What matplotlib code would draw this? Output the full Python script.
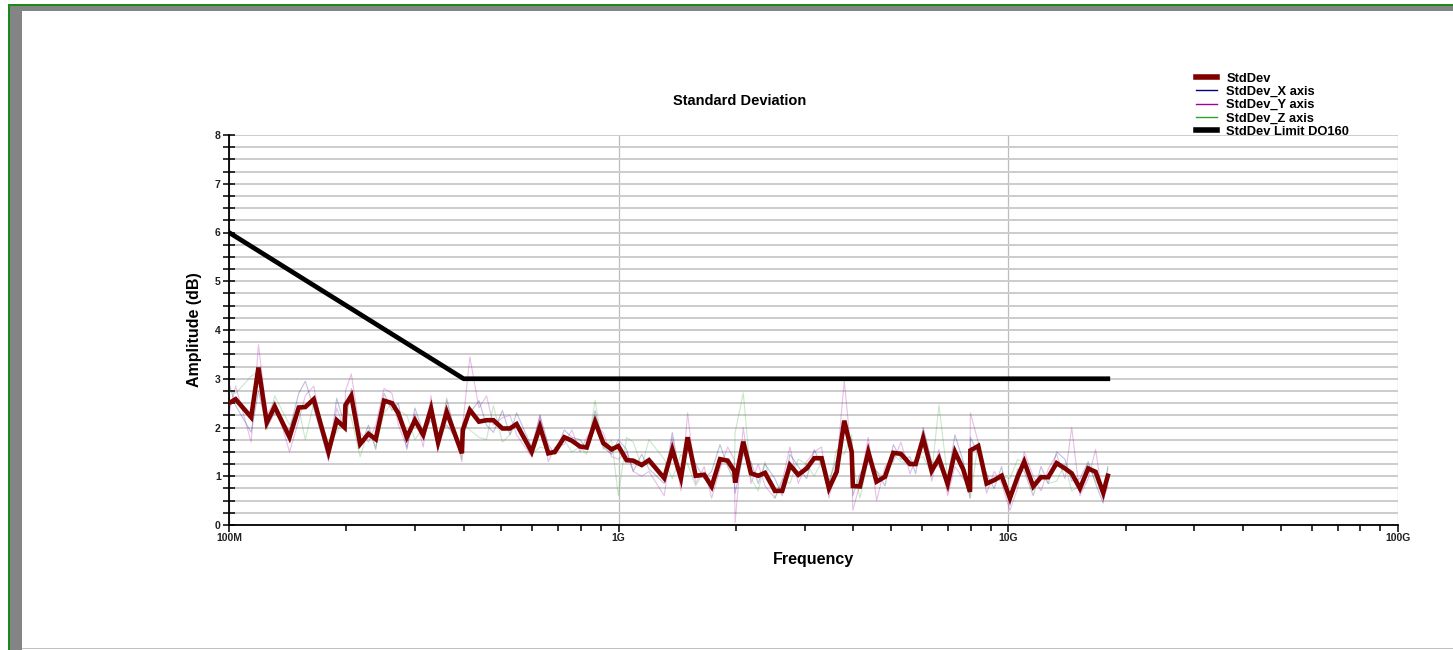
import matplotlib
matplotlib.use("Agg")
import matplotlib.pyplot as plt
from matplotlib.lines import Line2D
from matplotlib.patches import Rectangle
from matplotlib.ticker import FixedLocator, FuncFormatter, LogLocator, NullFormatter

plt.rcParams['font.family'] = ['Liberation Sans', 'DejaVu Sans']

# ---- measurement data (frequency in MHz, amplitude in dB) ----
freq_mhz = [100, 104, 114, 119, 125, 131, 143, 151, 157, 165,
            180, 189, 198, 199, 206, 217, 228, 238, 250, 262,
            272, 286, 300, 315, 330, 344, 362, 396, 398, 415,
            438, 458, 477, 503, 526, 547, 598, 628, 660, 686,
            725, 758, 796, 828, 870, 913, 959, 998, 1048, 1090,
            1146, 1196, 1309, 1373, 1445, 1503, 1576, 1658, 1732, 1820,
            1904, 1980, 1990, 2088, 2185, 2281, 2374, 2518, 2629, 2751,
            2890, 3037, 3176, 3318, 3464, 3626, 3793, 3963, 3990, 4161,
            4371, 4592, 4825, 5067, 5302, 5592, 5783, 6047, 6357, 6636,
            6987, 7295, 7661, 7971, 7990, 8372, 8797, 9198, 9612, 10094,
            10565, 10984, 11586, 12126, 12660, 13302, 13973, 14540, 15267, 16032,
            16749, 17518, 18000]

std_dev = [2.50, 2.58, 2.21, 3.23, 2.10, 2.43, 1.80, 2.41, 2.42, 2.58,
           1.50, 2.15, 2.00, 2.46, 2.65, 1.66, 1.87, 1.76, 2.55, 2.50,
           2.29, 1.80, 2.15, 1.85, 2.39, 1.69, 2.32, 1.47, 1.95, 2.36,
           2.12, 2.15, 2.15, 1.98, 1.98, 2.07, 1.50, 2.02, 1.47, 1.50,
           1.80, 1.73, 1.61, 1.59, 2.12, 1.68, 1.55, 1.62, 1.33, 1.32,
           1.23, 1.33, 0.96, 1.55, 0.96, 1.80, 1.01, 1.03, 0.79, 1.35,
           1.32, 1.11, 0.87, 1.71, 1.06, 1.01, 1.07, 0.70, 0.70, 1.23,
           1.03, 1.16, 1.37, 1.37, 0.75, 1.09, 2.14, 1.50, 0.80, 0.79,
           1.50, 0.89, 0.99, 1.48, 1.46, 1.25, 1.25, 1.78, 1.11, 1.37,
           0.84, 1.50, 1.14, 0.68, 1.53, 1.62, 0.85, 0.92, 1.01, 0.55,
           0.99, 1.30, 0.79, 0.98, 0.98, 1.27, 1.16, 1.06, 0.75, 1.16,
           1.09, 0.66, 1.01]

std_dev_x = [2.90, 2.45, 1.90, 2.75, 2.00, 2.30, 1.95, 2.70, 2.95, 2.40,
             1.35, 2.60, 2.05, 2.10, 2.80, 1.60, 2.05, 1.55, 2.70, 2.35,
             2.50, 1.55, 2.40, 1.90, 2.15, 1.85, 2.05, 1.60, 1.75, 2.30,
             2.55, 2.05, 1.90, 2.35, 1.85, 2.30, 1.60, 2.25, 1.65, 1.45,
             1.95, 1.80, 1.75, 1.55, 2.35, 1.60, 1.45, 1.75, 1.55, 1.10,
             1.45, 1.15, 0.85, 1.90, 0.90, 1.55, 1.25, 0.95, 1.10, 1.65,
             1.20, 0.90, 0.65, 1.45, 1.30, 0.85, 1.25, 0.95, 0.60, 1.45,
             1.20, 0.95, 1.55, 1.20, 0.90, 1.35, 1.90, 1.75, 0.60, 1.05,
             1.30, 1.10, 0.80, 1.65, 1.35, 1.40, 1.05, 2.00, 1.30, 1.20,
             0.95, 1.85, 1.30, 0.55, 1.80, 1.45, 1.05, 0.75, 1.20, 0.40,
             1.15, 1.10, 0.60, 1.20, 0.85, 1.50, 1.35, 0.90, 0.95, 1.30,
             0.85, 0.45, 1.20]

std_dev_y = [2.30, 2.85, 1.70, 3.70, 2.25, 2.55, 1.50, 2.15, 2.65, 2.85,
             1.30, 2.40, 1.95, 2.75, 3.10, 1.90, 1.70, 2.05, 2.80, 2.70,
             2.05, 1.60, 2.30, 1.60, 2.65, 1.55, 2.60, 1.30, 2.05, 3.45,
             2.40, 2.65, 2.05, 2.20, 2.25, 1.85, 1.40, 2.25, 1.30, 1.60,
             1.65, 1.95, 1.50, 1.80, 2.05, 1.90, 1.40, 1.35, 1.50, 1.10,
             1.00, 1.10, 0.60, 1.80, 0.70, 2.30, 0.85, 1.20, 0.55, 1.15,
             1.60, 1.35, 0.05, 2.00, 0.85, 1.25, 0.80, 0.55, 0.90, 1.60,
             0.85, 1.30, 1.50, 1.60, 0.55, 1.20, 2.96, 1.35, 0.30, 0.85,
             1.80, 0.50, 1.20, 1.30, 1.70, 1.05, 1.35, 1.95, 0.90, 1.55,
             0.60, 1.20, 0.95, 0.85, 2.30, 1.70, 0.65, 1.10, 0.85, 0.30,
             0.75, 1.50, 1.00, 0.70, 1.15, 1.45, 0.95, 2.00, 0.60, 0.95,
             1.55, 0.50, 0.80]

std_dev_z = [2.75, 2.70, 3.05, 3.15, 1.95, 2.65, 2.05, 2.40, 1.75, 2.50,
             1.70, 1.90, 2.25, 2.40, 2.20, 1.40, 1.95, 1.60, 2.30, 2.50,
             2.35, 2.25, 1.75, 2.00, 2.30, 1.70, 2.55, 1.35, 2.10, 1.95,
             1.80, 1.75, 2.45, 1.70, 1.85, 2.10, 1.45, 1.60, 1.55, 1.45,
             1.75, 1.50, 1.60, 1.45, 2.56, 1.55, 1.75, 0.60, 1.80, 1.70,
             1.20, 1.75, 1.35, 0.95, 1.45, 1.25, 0.80, 1.10, 0.75, 1.40,
             1.25, 1.00, 1.90, 2.71, 0.95, 0.70, 1.30, 0.55, 0.95, 0.85,
             1.35, 1.25, 1.00, 1.30, 0.80, 1.55, 1.45, 1.85, 1.30, 0.55,
             1.35, 1.10, 0.95, 1.45, 1.30, 1.25, 1.35, 1.40, 1.05, 2.46,
             0.95, 1.40, 1.15, 0.80, 0.55, 1.70, 0.85, 0.95, 1.00, 0.95,
             1.35, 1.25, 0.75, 1.05, 0.85, 0.90, 1.25, 0.70, 0.80, 1.25,
             0.90, 0.70, 1.15]

limit_freq_mhz = [100, 400, 18000]
limit_db = [6, 3, 3]

labels = ['StdDev', 'StdDev_X axis', 'StdDev_Y axis', 'StdDev_Z axis', 'StdDev Limit DO160']
colors = ['#800000', '#000080', '#a000a0', '#30a030', '#000000']

freq_hz = [f * 1e6 for f in freq_mhz]
limit_hz = [f * 1e6 for f in limit_freq_mhz]

# ---- figure ----
W, H = 1453, 650
fig = plt.figure(figsize=(W / 100, H / 100), dpi=100)
ax = fig.add_axes([229 / W, 1 - 525 / H, (1398 - 229) / W, (525 - 135) / H])

# window frame: green outline with a grey bevel
fig.patches.append(Rectangle((8 / W, 0), 2 / W, 1 - 4 / H, transform=fig.transFigure,
                             color='#1a8a1a', lw=0))
fig.patches.append(Rectangle((8 / W, 1 - 6 / H), 1 - 8 / W, 2 / H, transform=fig.transFigure,
                             color='#1a8a1a', lw=0))
fig.patches.append(Rectangle((10 / W, 0), 12 / W, 1 - 6 / H, transform=fig.transFigure,
                             color='#848484', lw=0))
fig.patches.append(Rectangle((10 / W, 1 - 11 / H), 1 - 10 / W, 5 / H, transform=fig.transFigure,
                             color='#848484', lw=0))
fig.patches.append(Rectangle((22 / W, 1 / H), 1 - 22 / W, 1.5 / H, transform=fig.transFigure,
                             color='#c0c0c0', lw=0))

# faint per-axis traces
for vals, c in zip([std_dev_x, std_dev_y, std_dev_z], colors[1:4]):
    ax.plot(freq_hz, vals, color=c, lw=0.8, alpha=0.25, zorder=3)
ax.plot(freq_hz, std_dev, color=colors[0], lw=3.3, solid_joinstyle='miter', zorder=4)
ax.plot(limit_hz, limit_db, color=colors[4], lw=3.4, zorder=5)

ax.set_xscale('log')
ax.set_xlim(1e8, 1e11)
ax.set_ylim(0, 8)

ax.xaxis.set_major_locator(FixedLocator([1e8, 1e9, 1e10, 1e11]))
ax.xaxis.set_major_formatter(FuncFormatter(
    lambda v, p: {1e8: '100M', 1e9: '1G', 1e10: '10G', 1e11: '100G'}.get(v, '')))
ax.xaxis.set_minor_locator(LogLocator(base=10, subs=range(2, 10)))
ax.xaxis.set_minor_formatter(NullFormatter())
ax.yaxis.set_major_locator(FixedLocator(range(0, 9)))
ax.yaxis.set_minor_locator(FixedLocator([i * 0.25 for i in range(33)]))

ax.grid(which='minor', axis='y', color='#cccccc', lw=1.4, zorder=0)
ax.grid(which='major', axis='y', color='#cccccc', lw=1.4, zorder=0)
ax.grid(which='major', axis='x', color='#bdbdbd', lw=0.9, zorder=0)
ax.set_axisbelow(True)

for s in ['top', 'right']:
    ax.spines[s].set_visible(False)
for s in ['left', 'bottom']:
    ax.spines[s].set_linewidth(1.3)

ax.tick_params(axis='y', which='both', direction='inout', length=8, width=1.1, pad=2)
ax.tick_params(axis='x', which='major', direction='out', length=5, width=1.1, pad=1)
ax.tick_params(axis='x', which='minor', direction='out', length=4, width=1.1)
for lab in ax.get_xticklabels() + ax.get_yticklabels():
    lab.set_fontsize(7.5)
    lab.set_fontweight('bold')
    lab.set_color('#202020')

ax.set_xlabel('Frequency', fontsize=11.5, fontweight='bold', labelpad=6)
ax.set_ylabel('Amplitude (dB)', fontsize=11.5, fontweight='bold', labelpad=9)
fig.text(740 / W, 1 - 101 / H, 'Standard Deviation', ha='center', va='center',
         fontsize=10.5, fontweight='bold')

handles = [Line2D([], [], color=colors[0], lw=4),
           Line2D([], [], color=colors[1], lw=1),
           Line2D([], [], color=colors[2], lw=1),
           Line2D([], [], color=colors[3], lw=1),
           Line2D([], [], color=colors[4], lw=4)]
fig.legend(handles, labels, loc='upper left', bbox_to_anchor=(1190 / W, 1 - 66 / H),
           frameon=False, prop={'size': 9.3, 'weight': 'bold'}, labelspacing=0.1,
           handlelength=1.6, handletextpad=0.7, borderpad=0)

fig.savefig('out.png', dpi=100)
